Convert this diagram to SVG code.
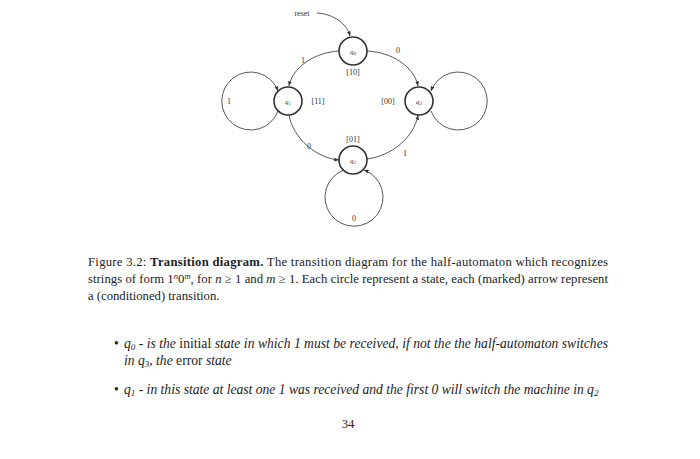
<svg xmlns="http://www.w3.org/2000/svg" width="700" height="459" viewBox="0 0 700 459">
<defs>
<marker id="arr" viewBox="0 0 8 6" refX="7.5" refY="3" markerWidth="5" markerHeight="4" orient="auto" markerUnits="userSpaceOnUse">
<path d="M0,0 L8,3 L0,6 Z" fill="#333"/>
</marker>
<style>
.node{fill:#fff;stroke:#333;stroke-width:1.6}
.edge{fill:none;stroke:#444;stroke-width:0.9;marker-end:url(#arr)}
.nl{font-family:"Liberation Serif",serif;font-style:italic;font-size:7px;fill:#333;text-anchor:middle}
.lb{font-family:"Liberation Serif",serif;font-size:8px;fill:#333;text-anchor:middle}
.cap{font-family:"Liberation Serif",serif;font-size:12.7px;fill:#222}
.bul{font-family:"Liberation Serif",serif;font-size:13.6px;fill:#222}
.it{font-style:italic}
.up{font-style:normal}
</style>
</defs>
<rect width="700" height="459" fill="#fff"/>
<g id="connectors">
<path class="edge" d="M317,13 C334,14 347,24 350,36"/>
<path class="edge" d="M340,51 C316,52 293,66 289,86"/>
<path class="edge" d="M367,51 C391,52 414,66 418,86"/>
<path class="edge" d="M289,115 C293,138 316,158 339,160"/>
<path class="edge" d="M367,159 C391,156 414,138 418,115"/>
<path class="edge" d="M278,111 A29,29 0 1 1 278,91"/>
<path class="edge" d="M431,111 A29,29 0 1 0 431,91"/>
<path class="edge" d="M344,170 A29,29 0 1 0 364,170"/>
<text class="lb" x="302" y="16">reset</text>
<text class="lb" x="303" y="63">1</text>
<text class="lb" x="398" y="53">0</text>
<text class="lb" x="309" y="149">0</text>
<text class="lb" x="405" y="156">1</text>
<text class="lb" x="229" y="104">1</text>
<text class="lb" x="354" y="221">0</text>
</g>
<g id="q0">
<circle class="node" cx="353" cy="51" r="14"/>
<text class="nl" x="353" y="53.5">q<tspan font-size="5" dy="1">0</tspan></text>
<text class="lb" x="353" y="75">[10]</text>
</g>
<g id="q1">
<circle class="node" cx="288" cy="101" r="14"/>
<text class="nl" x="288" y="103.5">q<tspan font-size="5" dy="1">1</tspan></text>
<text class="lb" x="318" y="104">[11]</text>
</g>
<g id="q3">
<circle class="node" cx="419" cy="101" r="14"/>
<text class="nl" x="419" y="103.5">q<tspan font-size="5" dy="1">3</tspan></text>
<text class="lb" x="388" y="104">[00]</text>
</g>
<g id="q2">
<circle class="node" cx="353" cy="160" r="14"/>
<text class="nl" x="353" y="162.5">q<tspan font-size="5" dy="1">2</tspan></text>
<text class="lb" x="353" y="142">[01]</text>
</g>
<g id="caption">
<text class="cap" x="88" y="266" textLength="520" lengthAdjust="spacing">Figure 3.2: <tspan font-weight="bold">Transition diagram.</tspan> The transition diagram for the half-automaton which recognizes</text>
<text class="cap" x="88" y="283" textLength="520" lengthAdjust="spacing">strings of form 1<tspan class="it" font-size="8.5" dy="-4">n</tspan><tspan dy="4">0</tspan><tspan class="it" font-size="8.5" dy="-4">m</tspan><tspan dy="4">, for </tspan><tspan class="it">n</tspan> ≥ 1 and <tspan class="it">m</tspan> ≥ 1. Each circle represent a state, each (marked) arrow represent</text>
<text class="cap" x="88" y="300">a (conditioned) transition.</text>
<text class="bul" x="114" y="348">•</text>
<text class="bul it" x="124" y="348" textLength="484" lengthAdjust="spacing">q<tspan font-size="9" dy="2">0</tspan><tspan dy="-2"> - is the </tspan><tspan class="up">initial</tspan> state in which 1 must be received, if not the the half-automaton switches</text>
<text class="bul it" x="124" y="365">in q<tspan font-size="9" dy="2">3</tspan><tspan dy="-2">, the </tspan><tspan class="up">error</tspan> state</text>
<text class="bul" x="114" y="394">•</text>
<text class="bul it" x="124" y="394">q<tspan font-size="9" dy="2">1</tspan><tspan dy="-2"> - in this state at least one 1 was received and the first 0 will switch the machine in q</tspan><tspan font-size="9" dy="2">2</tspan></text>
<text class="cap" x="348" y="428" text-anchor="middle">34</text>
</g>
</svg>
